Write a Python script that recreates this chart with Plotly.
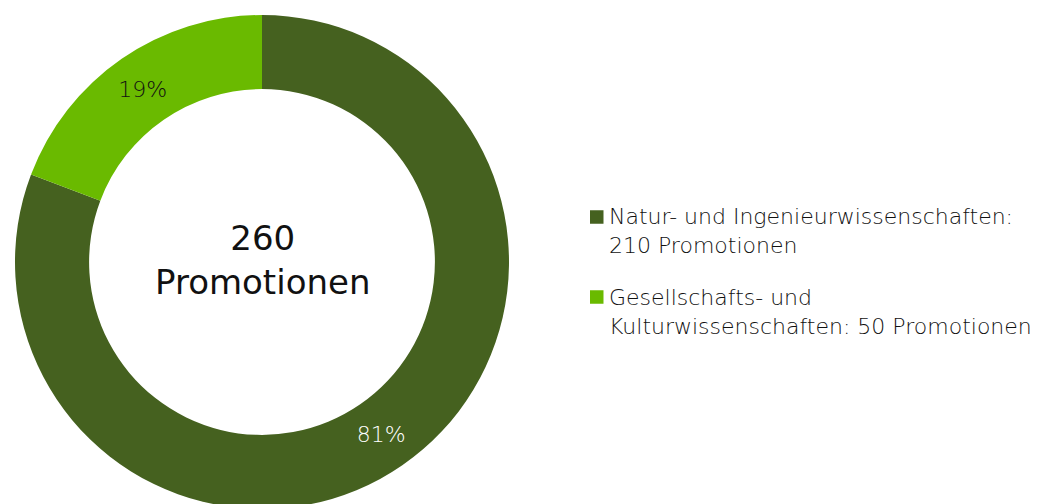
import plotly.graph_objects as go

categories = ["Natur- und Ingenieurwissenschaften:<br>", "Gesellschafts- und<br>Kulturwissenschaften: "]
counts = [210, 50]
colors = ["#45611f", "#6aba00"]
pct_colors = ["#ffffff", "#111111"]
total = sum(counts)

labels = [f"{c}{n} Promotionen" for c, n in zip(categories, counts)]

OFF = 8  # page body margin
W, H = 1026, 504
cx, cy, r = 262 - OFF, 262 - OFF, 247


def px(x):
    return (x - OFF) / W


def py(y):
    return 1 - (y - OFF) / H


fig = go.Figure(go.Pie(
    labels=labels,
    values=counts,
    hole=0.70,
    sort=False,
    direction="clockwise",
    rotation=0,
    marker=dict(colors=colors, line=dict(width=0)),
    texttemplate="%{percent:.0%}",
    textposition="inside",
    insidetextorientation="horizontal",
    insidetextfont=dict(family="DejaVu Sans", size=22, weight=300, color=pct_colors),
    showlegend=False,
    hoverinfo="label+value+percent",
    domain=dict(x=[(cx - r) / W, (cx + r) / W], y=[(H - cy - r) / H, (H - cy + r) / H]),
))

fig.add_annotation(
    x=cx / W, y=py(260), xref="paper", yref="paper",
    text=f"{total}<br>Promotionen", showarrow=False,
    font=dict(family="DejaVu Sans", size=34, color="#111111"),
    xanchor="center", yanchor="middle",
)

# manual legend (layout only)
legend_mid_y = [231, 312]
legend_sq_y = [217, 297]
for i, lab in enumerate(labels):
    fig.add_shape(
        type="rect", xref="paper", yref="paper",
        x0=px(590), x1=px(603.5),
        y0=py(legend_sq_y[i] + 6.75), y1=py(legend_sq_y[i] - 6.75),
        fillcolor=colors[i], line=dict(width=0),
    )
    fig.add_annotation(
        x=px(607), y=py(legend_mid_y[i]), xref="paper", yref="paper",
        text=lab, showarrow=False, align="left",
        xanchor="left", yanchor="middle",
        font=dict(family="DejaVu Sans", size=22, weight=300, color="#111111"),
    )

fig.update_layout(
    width=W, height=H,
    margin=dict(l=0, r=0, t=0, b=0),
    paper_bgcolor="white",
    plot_bgcolor="white",
)

fig.write_html("out.html")
